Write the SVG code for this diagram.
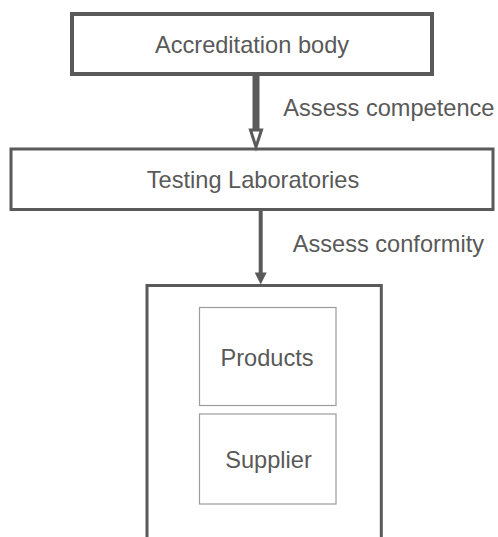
<svg xmlns="http://www.w3.org/2000/svg" width="498" height="537" viewBox="0 0 498 537">
<style>
text{font-family:"Liberation Sans",Arial,sans-serif;font-size:23.6px;fill:#595959}
.box{fill:#ffffff;stroke:#5a5a5a}
.inner{fill:#ffffff;stroke:#9c9c9c;stroke-width:1.2}
.c{text-anchor:middle}
</style>
<rect width="498" height="537" fill="#ffffff"/>
<g id="accreditation-body">
<rect class="box" x="72" y="14" width="360" height="60" stroke-width="4"/>
<text class="c" x="252" y="53">Accreditation body</text>
</g>
<g id="testing-laboratories">
<rect class="box" x="11" y="149" width="482" height="60.5" stroke-width="3"/>
<text class="c" x="253" y="188">Testing Laboratories</text>
</g>
<g id="container">
<path class="box" d="M147 537 V285.5 H381.3 V537" fill="none" stroke-width="3"/>
</g>
<g id="products">
<rect class="inner" x="199.5" y="307.5" width="136.5" height="98"/>
<text class="c" x="267" y="365.7">Products</text>
</g>
<g id="supplier">
<rect class="inner" x="199.5" y="414" width="136.5" height="90"/>
<text class="c" x="268.5" y="468.3">Supplier</text>
</g>
<g id="connectors">
<line x1="256" y1="76" x2="256" y2="131" stroke="#5a5a5a" stroke-width="7"/>
<polygon points="250.5,130 261.5,130 256,147" fill="#ffffff" stroke="#5a5a5a" stroke-width="3" stroke-linejoin="miter"/>
<text x="283.3" y="115.7">Assess competence</text>
<line x1="260.7" y1="210" x2="260.7" y2="274" stroke="#5a5a5a" stroke-width="4"/>
<polygon points="254.7,272.5 266.7,272.5 260.7,284.5" fill="#5a5a5a"/>
<text x="292.7" y="252.3">Assess conformity</text>
</g>
</svg>
